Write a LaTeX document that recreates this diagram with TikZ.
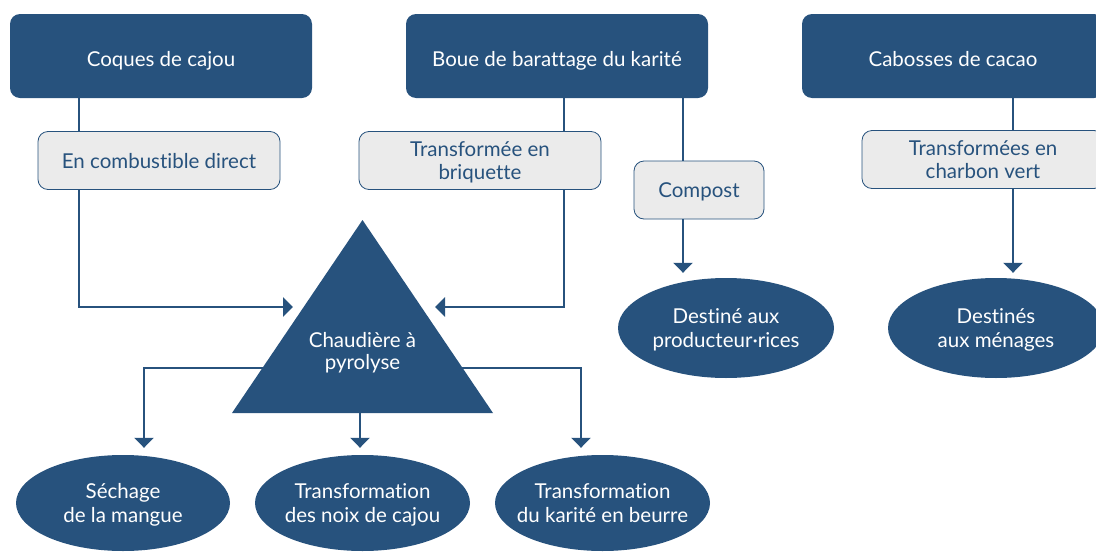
\documentclass[tikz,border=0pt]{standalone}
\usepackage{fontspec}
\setmainfont{Lato}[Ligatures=NoCommon]
\usetikzlibrary{positioning, arrows.meta, shapes.geometric}
\definecolor{fuelblue}{HTML}{27527D}
\definecolor{fuelgrey}{HTML}{EBEBEB}

\begin{document}
\begin{tikzpicture}[x=1pt, y=-1pt,
        source/.style={rectangle, rounded corners=10pt, fill=fuelblue, text=white, minimum width=302pt, minimum height=84pt, inner sep=0pt, text height=21pt, text depth=0pt, font=\fontsize{20.5}{24}\selectfont},
        route/.style={rectangle, rounded corners=10pt, draw=fuelblue, line width=0.8pt, fill=fuelgrey, text=fuelblue, minimum width=242pt, minimum height=58pt, inner sep=0pt, text depth=0pt, align=center, font=\fontsize{20.5}{23.5}\selectfont},
        use/.style={ellipse, fill=fuelblue, text=white, minimum width=215pt, minimum height=96pt, inner xsep=-15pt, inner ysep=0pt, text depth=0pt, align=center, font=\fontsize{20.5}{24.5}\selectfont},
        link/.style={draw=fuelblue, line width=2.2pt},
        arrow/.style={link, -{Triangle[length=10pt, width=19pt]}}
    ]
    \useasboundingbox (0,0) rectangle (1096,552);
    \clip (0,0) rectangle (1096,552);

    % Sources
    \node[source] (coques) at (161,56) {Coques de cajou};
    \node[source] (boue) at (557,56) {Boue de barattage du karité};
    \node[source] (cabosses) at (953,56) {Cabosses de cacao};

    % Routes
    \node[route] (combust) at (159,160.5) {En combustible direct};
    \node[route, text depth=-6pt] (briq) at (480,160.5) {Transformée en\\briquette};
    \node[route, minimum width=130pt] (compost) at (699,190) {Compost};
    \node[route, text depth=-6pt] (charbon) at (983,159.5) {Transformées en\\charbon vert};

    % Uses
    \node[use, minimum width=216pt, minimum height=100pt] (producteurs) at (726,328) {Destiné aux\\producteur·rices};
    \node[use, minimum width=216pt, minimum height=100pt] (menages) at (996,328) {Destinés\\aux ménages};
    \node[use, minimum width=214pt] (sechage) at (123,503) {Séchage\\de la mangue};
    \node[use] (noix) at (362.5,503) {Transformation\\des noix de cajou};
    \node[use] (karite) at (602.5,503) {Transformation\\du karité en beurre};

    % Line positions
    \coordinate (xcoq) at (79,0);
    \coordinate (xbriq) at (564,0);
    \coordinate (xcomp) at (683,0);
    \coordinate (xcab) at (1013,0);
    \coordinate (xsech) at (144,0);
    \coordinate (xnoix) at (360,0);
    \coordinate (xkar) at (581,0);
    \coordinate (inL) at (293,307);
    \coordinate (inR) at (435,307);
    \coordinate (outL) at (300,368);
    \coordinate (outR) at (425,368);
    \coordinate (outB) at (360,400);

    % Connectors
    \draw[link] (coques.south -| xcoq) -- (combust.north -| xcoq);
    \draw[arrow] (combust.south -| xcoq) |- (inL);
    \draw[link] (boue.south -| xbriq) -- (briq.north -| xbriq);
    \draw[arrow] (briq.south -| xbriq) |- (inR);
    \draw[link] (boue.south -| xcomp) -- (compost.north -| xcomp);
    \draw[arrow] (compost.south -| xcomp) -- ([yshift=5pt]producteurs.north -| xcomp);
    \draw[link] (cabosses.south -| xcab) -- (charbon.north -| xcab);
    \draw[arrow] (charbon.south -| xcab) -- ([yshift=5pt]menages.north -| xcab);
    \draw[arrow] (outL) -| ([yshift=7pt]sechage.north -| xsech);
    \draw[arrow] (outB) -- ([yshift=7pt]noix.north -| xnoix);
    \draw[arrow] (outR) -| ([yshift=7pt]karite.north -| xkar);

    % Chaudiere
    \fill[fuelblue] (362.5,220) -- (493,413) -- (232,413) -- cycle;
    \node[text=white, align=center, text depth=0pt, font=\fontsize{20.5}{22}\selectfont] (chaudiere) at (362.5,351) {Chaudière à\\pyrolyse};
\end{tikzpicture}
\end{document}
